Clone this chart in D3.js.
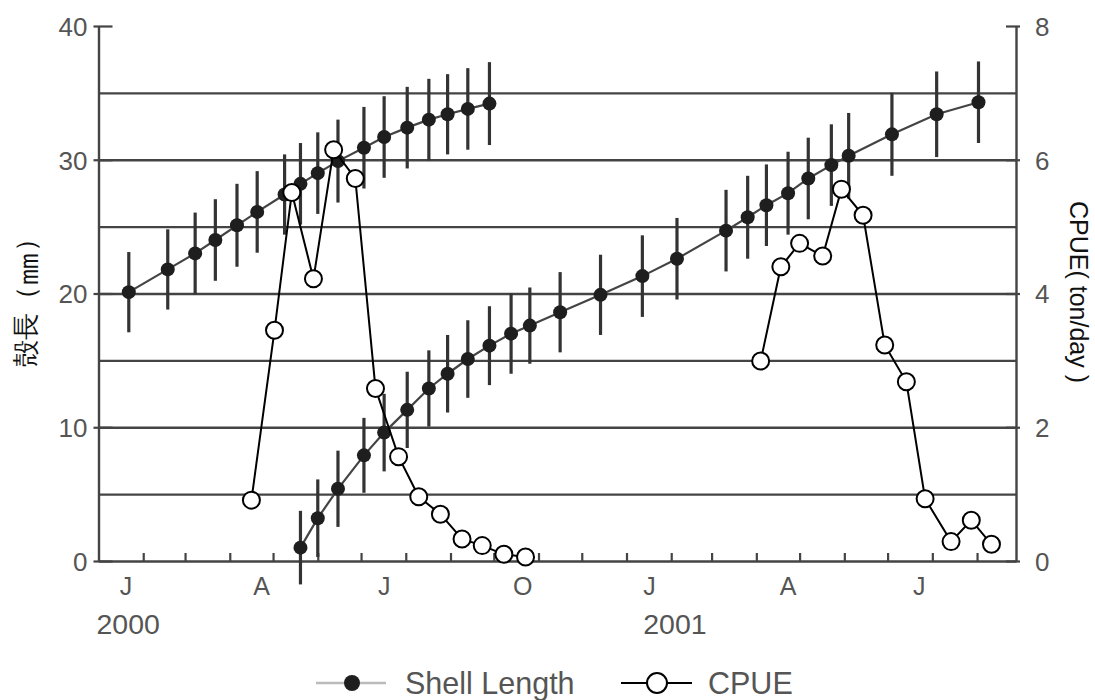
<!DOCTYPE html>
<html>
<head>
<meta charset="utf-8">
<script src="https://cdn.jsdelivr.net/npm/d3@7/dist/d3.min.js"></script>
<style>
  html, body { margin: 0; padding: 0; background: #fff; }
  svg { display: block; }
  text { font-family: "Liberation Sans", Arial, Helvetica, sans-serif; }
</style>
</head>
<body>
<svg id="chart" width="1095" height="700"></svg>
<script>
// ---------------- DATA ----------------
const cohort1Dates = ["2000-01-22","2000-02-18","2000-03-08","2000-03-22","2000-04-06","2000-04-20","2000-05-09","2000-05-20","2000-06-01","2000-06-15","2000-07-03","2000-07-17","2000-08-02","2000-08-17","2000-08-30","2000-09-13","2000-09-28"];
const cohort1Mean  = [20.1,21.8,23.0,24.0,25.1,26.1,27.4,28.2,29.0,29.9,30.9,31.7,32.4,33.0,33.4,33.8,34.2];
const cohort1SD    = [3.0,3.0,3.05,3.05,3.1,3.05,3.0,3.05,3.05,3.1,3.05,3.05,3.05,3.05,3.0,3.05,3.1];

const cohort2Dates = ["2000-05-20","2000-06-01","2000-06-15","2000-07-03","2000-07-17","2000-08-02","2000-08-17","2000-08-30","2000-09-13","2000-09-28","2000-10-13","2000-10-26","2000-11-16","2000-12-14","2001-01-12","2001-02-05","2001-03-11","2001-03-26","2001-04-08","2001-04-23","2001-05-07","2001-05-23","2001-06-04","2001-07-04","2001-08-04","2001-09-02"];
const cohort2Mean  = [1.0,3.2,5.4,7.9,9.6,11.3,12.9,14.0,15.1,16.1,17.0,17.6,18.6,19.9,21.3,22.6,24.7,25.7,26.6,27.5,28.6,29.6,30.3,31.9,33.4,34.3];
const cohort2SD    = [2.75,2.9,2.85,2.8,2.9,2.85,2.85,2.9,2.9,2.95,3.0,2.85,3.0,3.0,3.05,3.05,3.05,3.1,3.05,3.1,3.05,3.05,3.2,3.1,3.2,3.05];

const cpue2000Dates = ["2000-04-16","2000-05-02","2000-05-14","2000-05-29","2000-06-12","2000-06-27","2000-07-11","2000-07-27","2000-08-10","2000-08-25","2000-09-09","2000-09-23","2000-10-08","2000-10-23"];
const cpue2000      = [0.91,3.45,5.51,4.22,6.15,5.72,2.58,1.56,0.96,0.70,0.33,0.23,0.10,0.06];
const cpue2001Dates = ["2001-04-04","2001-04-18","2001-05-01","2001-05-17","2001-05-30","2001-06-14","2001-06-29","2001-07-14","2001-07-27","2001-08-14","2001-08-28","2001-09-11"];
const cpue2001      = [2.99,4.40,4.75,4.56,5.56,5.17,3.23,2.68,0.93,0.29,0.61,0.25];

const leftTicks  = [0,10,20,30,40];
const rightTicks = [0,2,4,6,8];
const gridValues = [5,10,15,20,25,30,35];
const monthLabelDates = ["2000-01-20","2000-04-23","2000-07-17","2000-10-21","2001-01-17","2001-04-23","2001-07-23"];
const monthLabelText  = ["J","A","J","O","J","A","J"];
const yearLabelDates  = ["2000-01-01","2001-01-14"];
const yearLabelText   = ["2000","2001"];
const yLeftTitleParts = ["殻長（", "㎜", "）"];
const yRightTitle = "CPUE( ton/day )";
const legendLabels = ["Shell Length","CPUE"];

// ---------------- SETUP ----------------
const parse = d3.utcParse("%Y-%m-%d");
const svg = d3.select("#chart");
const L = 98.5, R = 1016, T = 26, B = 561;

const x  = d3.scaleUtc().domain([parse("2000-01-01"), parse("2001-09-28")]).range([L, R]);
const yL = d3.scaleLinear().domain([0, 40]).range([B, T]);
const yR = d3.scaleLinear().domain([0, 8]).range([B, T]);

const zip = (ds, vs, sd) => ds.map((d, i) => ({ date: parse(d), v: vs[i], sd: sd ? sd[i] : 0 }));
const c1 = zip(cohort1Dates, cohort1Mean, cohort1SD);
const c2 = zip(cohort2Dates, cohort2Mean, cohort2SD);
const p1 = zip(cpue2000Dates, cpue2000);
const p2 = zip(cpue2001Dates, cpue2001);

// gridlines
const grid = svg.append("g").attr("transform", `translate(${L},0)`)
  .call(d3.axisLeft(yL).tickValues(gridValues).tickSize(-(R - L)).tickFormat(""));
grid.select(".domain").remove();
grid.selectAll("line").attr("stroke", "#444").attr("stroke-width", 2.3);

// left axis
const ax = svg.append("g").attr("transform", `translate(${L},0)`)
  .call(d3.axisLeft(yL).tickValues(leftTicks).tickSizeInner(5).tickSizeOuter(0).tickPadding(6));
ax.select(".domain").attr("stroke", "#444").attr("stroke-width", 2.4);
ax.selectAll("line").attr("stroke", "#444").attr("stroke-width", 2.2).attr("x2", -5).attr("x1", 14);
ax.selectAll("text").attr("fill", "#555").attr("font-size", 26).attr("dy", "0.36em");

// right axis
const ar = svg.append("g").attr("transform", `translate(${R},0)`)
  .call(d3.axisRight(yR).tickValues(rightTicks).tickSizeInner(5).tickSizeOuter(0).tickPadding(14));
ar.select(".domain").attr("stroke", "#444").attr("stroke-width", 2.4);
ar.selectAll("line").attr("stroke", "#444").attr("stroke-width", 2.2).attr("x1", -10).attr("x2", 4);
ar.selectAll("text").attr("fill", "#555").attr("font-size", 26).attr("dy", "0.36em");

// bottom axis with inward month ticks
const ab = svg.append("g").attr("transform", `translate(0,${B})`)
  .call(d3.axisBottom(x).ticks(d3.utcMonth.every(1)).tickSizeInner(-8).tickSizeOuter(0).tickFormat(""));
ab.select(".domain").attr("stroke", "#444").attr("stroke-width", 2.4);
ab.selectAll(".tick line").attr("stroke", "#444").attr("stroke-width", 2.2);
ab.selectAll(".tick").filter(d => +d === +x.domain()[0]).remove();

// month labels
svg.append("g").selectAll("text").data(monthLabelDates).join("text")
  .attr("x", d => x(parse(d)))
  .attr("y", 595)
  .attr("text-anchor", "middle")
  .attr("fill", "#555").attr("font-size", 25)
  .text((d, i) => monthLabelText[i]);

// year labels
svg.append("g").selectAll("text").data(yearLabelDates).join("text")
  .attr("x", d => x(parse(d)) - 2)
  .attr("y", 634)
  .attr("text-anchor", "start")
  .attr("fill", "#555").attr("font-size", 28.5)
  .text((d, i) => yearLabelText[i]);

// axis titles
const lt = svg.append("text")
  .attr("transform", "translate(26,296) rotate(-90)")
  .attr("text-anchor", "middle").attr("dominant-baseline", "central")
  .attr("font-family", "'Noto Sans CJK JP', sans-serif")
  .attr("font-size", 27).attr("fill", "#111");
lt.append("tspan").text(yLeftTitleParts[0]);
lt.append("tspan").attr("font-size", 34).text(yLeftTitleParts[1]);
lt.append("tspan").text(yLeftTitleParts[2]);

svg.append("text")
  .attr("transform", "translate(1079,292) rotate(90)")
  .attr("text-anchor", "middle").attr("dominant-baseline", "central")
  .attr("font-size", 25).attr("fill", "#111")
  .text(yRightTitle);

// ---------------- SHELL LENGTH ----------------
const lineL = d3.line().x(d => x(d.date)).y(d => yL(d.v));
[c1, c2].forEach(data => {
  const g = svg.append("g");
  g.selectAll("line.err").data(data).join("line").attr("class", "err")
    .attr("x1", d => x(d.date)).attr("x2", d => x(d.date))
    .attr("y1", d => yL(d.v - d.sd)).attr("y2", d => yL(d.v + d.sd))
    .attr("stroke", "#333").attr("stroke-width", 3.2);
  g.append("path").datum(data).attr("d", lineL)
    .attr("fill", "none").attr("stroke", "#444").attr("stroke-width", 2.2);
  g.selectAll("circle").data(data).join("circle")
    .attr("cx", d => x(d.date)).attr("cy", d => yL(d.v)).attr("r", 7)
    .attr("fill", "#1e1e1e");
});

// ---------------- CPUE ----------------
const lineR = d3.line().x(d => x(d.date)).y(d => yR(d.v));
[p1, p2].forEach(data => {
  const g = svg.append("g");
  g.append("path").datum(data).attr("d", lineR)
    .attr("fill", "none").attr("stroke", "#000").attr("stroke-width", 2);
  g.selectAll("circle").data(data).join("circle")
    .attr("cx", d => x(d.date)).attr("cy", d => yR(d.v)).attr("r", 8.5)
    .attr("fill", "#fff").attr("stroke", "#000").attr("stroke-width", 2);
});

// ---------------- LEGEND ----------------
const lg = svg.append("g");
lg.append("line").attr("x1", 316).attr("x2", 386).attr("y1", 683).attr("y2", 683)
  .attr("stroke", "#bbb").attr("stroke-width", 2.5);
lg.append("circle").attr("cx", 352).attr("cy", 683).attr("r", 8).attr("fill", "#1e1e1e");
lg.append("text").attr("x", 405).attr("y", 694).attr("font-size", 30.5).attr("fill", "#555").text(legendLabels[0]);
lg.append("line").attr("x1", 621).attr("x2", 692).attr("y1", 683).attr("y2", 683)
  .attr("stroke", "#000").attr("stroke-width", 2);
lg.append("circle").attr("cx", 657).attr("cy", 683).attr("r", 10).attr("fill", "#fff")
  .attr("stroke", "#000").attr("stroke-width", 2);
lg.append("text").attr("x", 708).attr("y", 694).attr("font-size", 30.5).attr("fill", "#555").text(legendLabels[1]);
</script>
</body>
</html>
